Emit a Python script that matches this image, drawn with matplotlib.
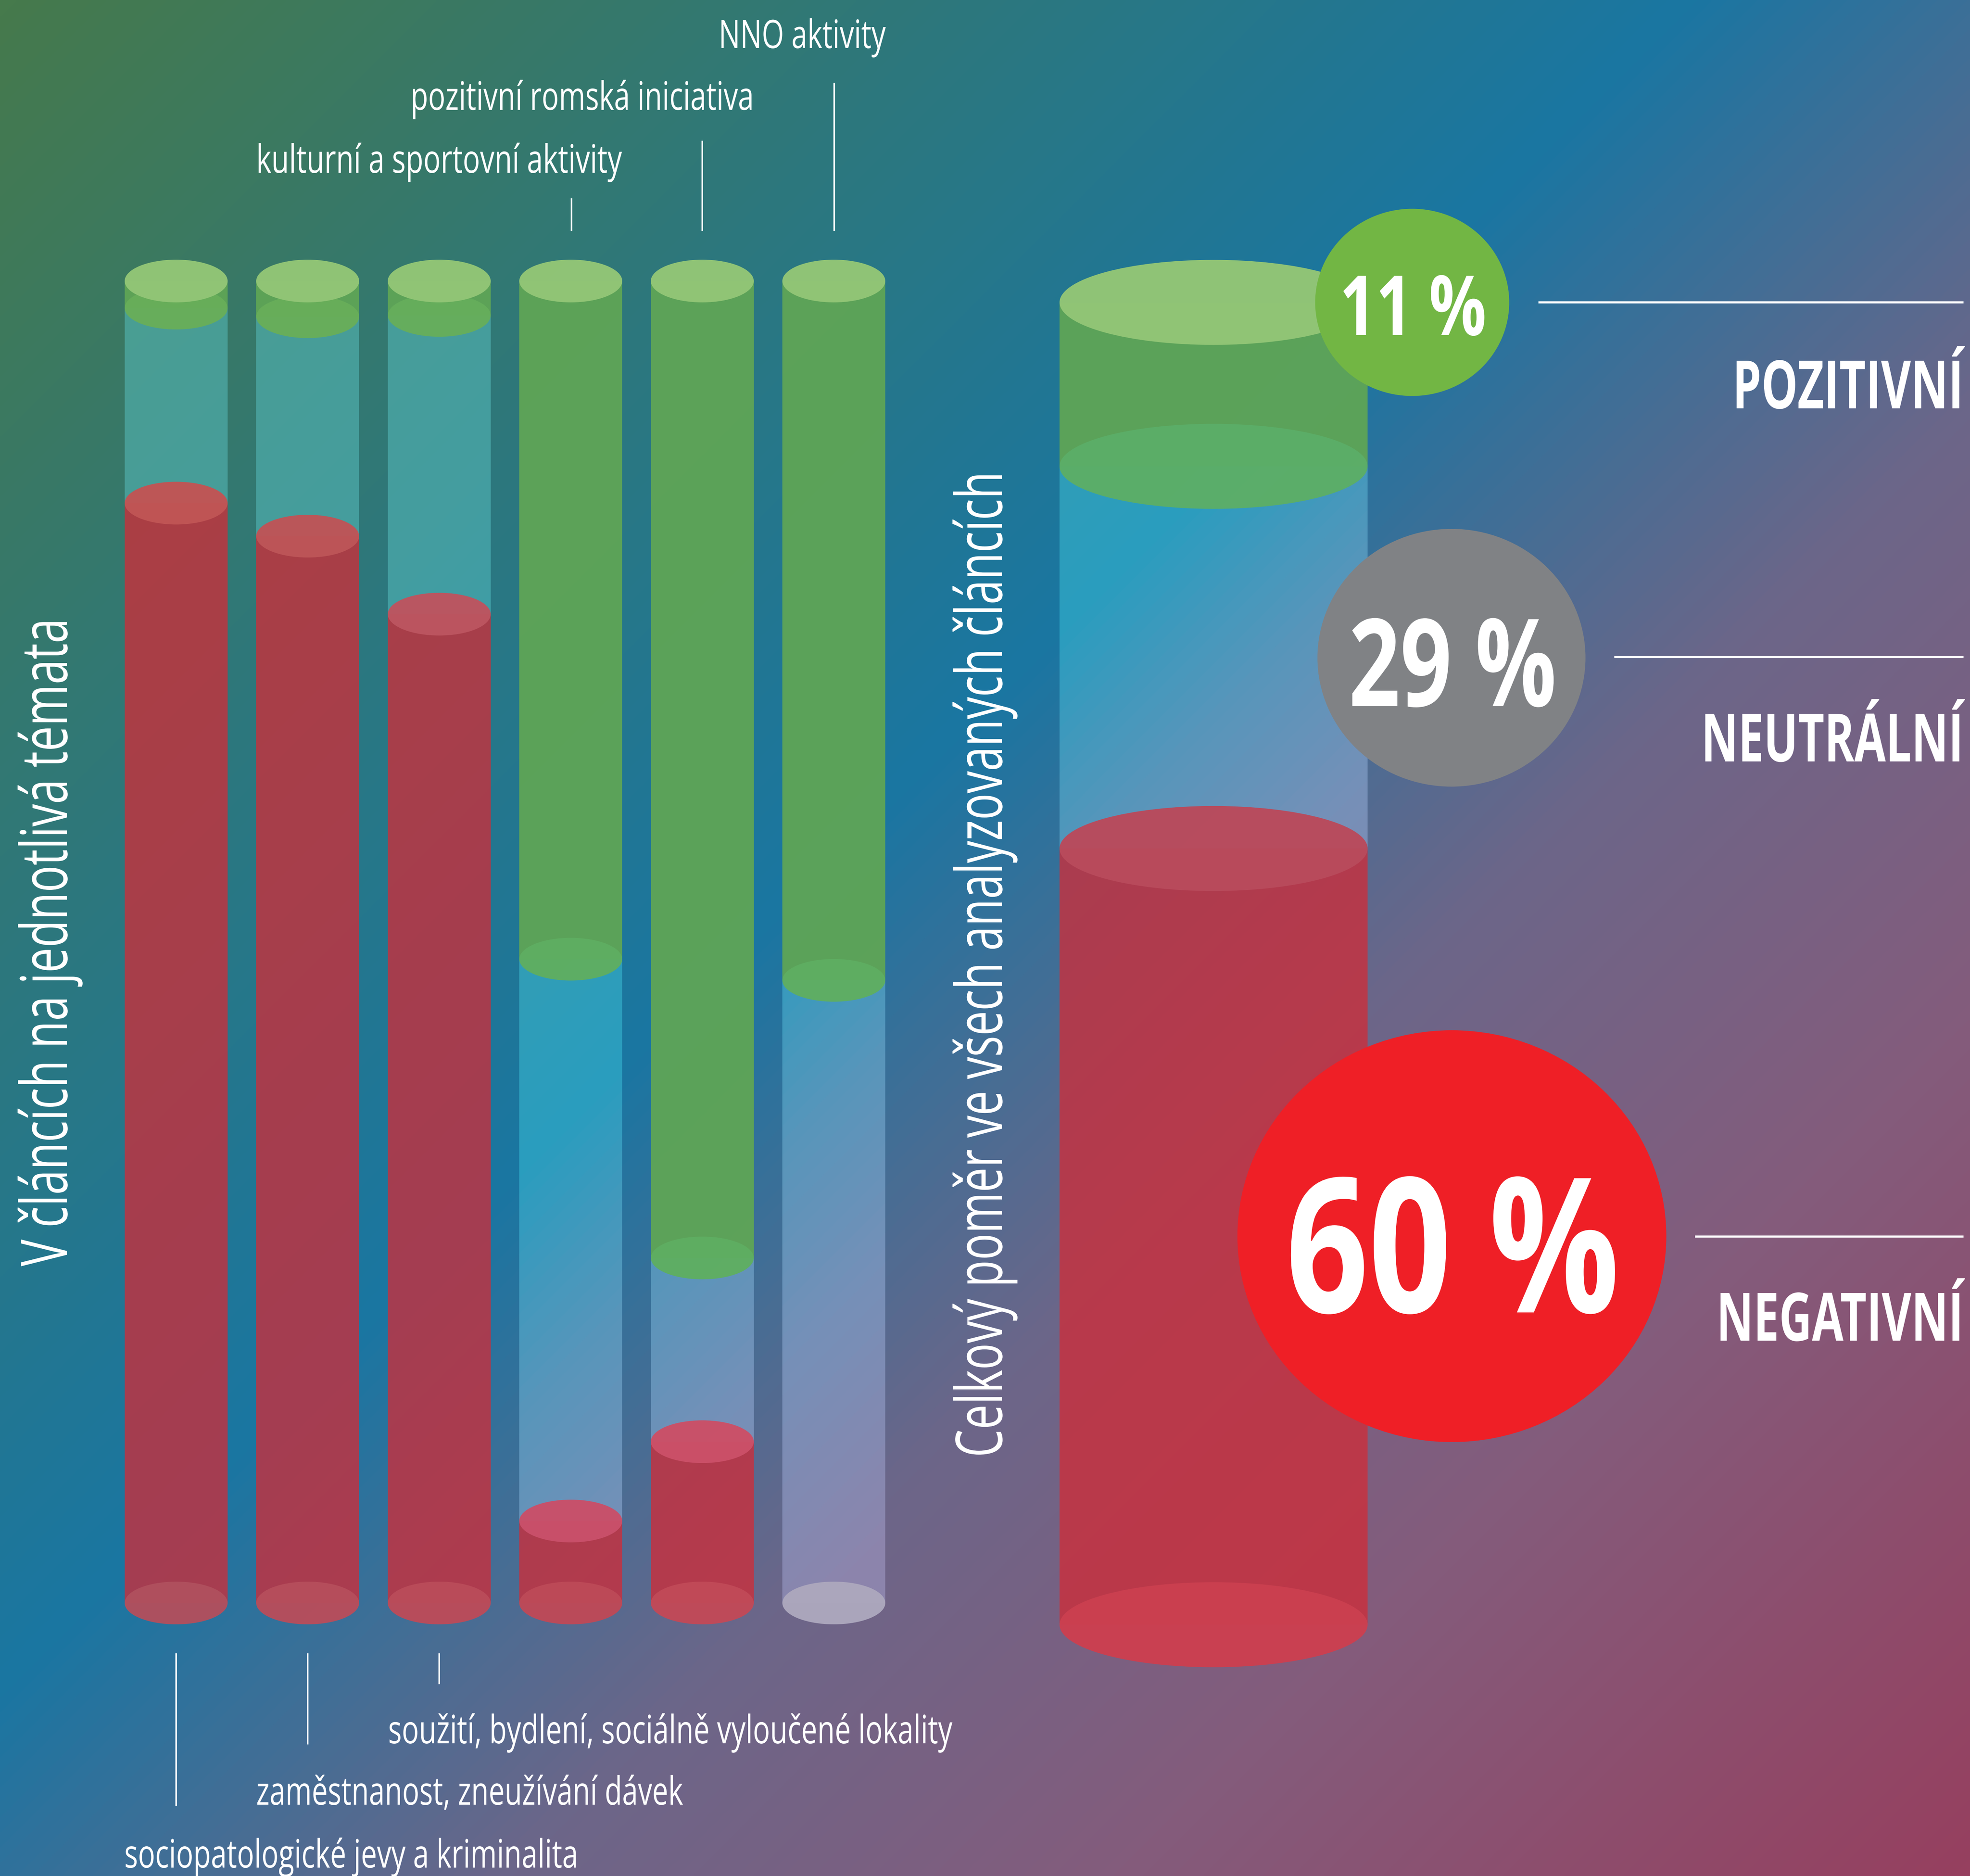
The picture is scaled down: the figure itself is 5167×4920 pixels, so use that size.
import numpy as np
import matplotlib
matplotlib.use("Agg")
import matplotlib.pyplot as plt
from matplotlib.colors import LinearSegmentedColormap
from matplotlib.patches import Ellipse
from matplotlib.patheffects import AbstractPathEffect
from matplotlib.text import Text
from matplotlib.transforms import Affine2D, Bbox

W, H = 5167, 4920

topics = ["sociopatologické jevy a kriminalita", "zaměstnanost, zneužívání dávek",
          "soužití, bydlení, sociálně vyloučené lokality", "kulturní a sportovní aktivity",
          "pozitivní romská iniciativa", "NNO aktivity"]
negative = [83.2, 80.7, 74.8, 6.2, 12.2, 0.0]
neutral = [14.75, 16.6, 22.6, 42.5, 13.9, 47.1]
positive = [2.05, 2.7, 2.6, 51.3, 73.9, 52.9]

total_negative = 58.7
total_neutral = 28.9
total_positive = 12.4
total_labels = ["11 %", "29 %", "60 %"]
total_names = ["POZITIVNÍ", "NEUTRÁLNÍ", "NEGATIVNÍ"]

bg_stops = [0.0, 0.44, 0.62, 0.78, 1.0]
bg_colors = ["#467a4c", "#1a76a2", "#6c6689", "#845c7c", "#96405f"]
neutral_stops = [0.0, 0.25, 0.44, 0.50, 0.56, 0.63, 1.0]
neutral_colors = ["#4f9f88", "#449da0", "#2a9dbf", "#5696bb", "#7690b8", "#8c85ad", "#a07a9f"]

base_caps = ["#b0505e", "#b64e5c", "#ba4c5a", "#bd4a58", "#c14a58", "#aca7bd"]
red_caps = ["#c05555", "#bd5558", "#bc5560", "#c9506a", "#cb5068", "#c9506a"]
green_caps = ["#68ae5a", "#68ae5a", "#66ae5c", "#5fae62", "#5fae62", "#5fae62"]

FONT = "Open Sans"

fig = plt.figure(figsize=(W / 100, H / 100), dpi=100)


class Squeeze(AbstractPathEffect):
    # the source font is condensed, none installed is: narrow the glyphs when drawn
    def __init__(self, owner):
        super().__init__()
        self.owner = owner

    def draw_path(self, renderer, gc, tpath, affine, rgbFace=None):
        renderer.draw_path(gc, tpath, affine + self.owner.squeeze_tf(), rgbFace)


class NarrowText(Text):
    def __init__(self, x, y, s, length, **kw):
        super().__init__(x, y, s, **kw)
        self.length = length
        self.factor = 1.0
        self.set_path_effects([Squeeze(self)])

    def squeeze_tf(self):
        ax0, ay0 = self.get_transform().transform(self.get_position())
        if self.get_rotation() == 90:
            sx, sy = 1.0, self.factor
        else:
            sx, sy = self.factor, 1.0
        return Affine2D().translate(-ax0, -ay0).scale(sx, sy).translate(ax0, ay0)

    def fit(self, renderer):
        bb = Text.get_window_extent(self, renderer)
        natural = bb.height if self.get_rotation() == 90 else bb.width
        self.factor = self.length / natural

    def get_window_extent(self, renderer=None, dpi=None):
        bb = Text.get_window_extent(self, renderer, dpi)
        return Bbox(self.squeeze_tf().transform(bb.get_points()))


def px_axes(left, right, top, bottom, zorder):
    a = fig.add_axes([left / W, 1 - bottom / H, (right - left) / W, (bottom - top) / H], zorder=zorder)
    a.axis("off")
    a.patch.set_alpha(0)
    return a


# background
ax_bg = px_axes(0, W, 0, H, 0)
xx, yy = np.meshgrid(np.linspace(0, 1, 800), np.linspace(0, 1, 800))
grad = (xx * W + yy * H) / (W + H)
bg_cmap = LinearSegmentedColormap.from_list("bg", list(zip(bg_stops, bg_colors)))
neutral_cmap = LinearSegmentedColormap.from_list("neu", list(zip(neutral_stops, neutral_colors)))
ax_bg.imshow(grad, cmap=bg_cmap, vmin=0, vmax=1, extent=[0, W, H, 0], aspect="auto", interpolation="bilinear")


def cylinder(ax, x, neg, neu, pos, width, cap_h, base_cap, red_cap, green_cap):
    ax.bar(x, neg, width, color="#d02c38", alpha=0.76, lw=0, zorder=2)
    # neutral part takes its colour from a lighter copy of the background
    rect = ax.bar(x, neu, width, bottom=neg, color="none", lw=0, zorder=2)[0]
    im = ax_bg.imshow(grad, cmap=neutral_cmap, vmin=0, vmax=1, extent=[0, W, H, 0], aspect="auto",
                      interpolation="bilinear", zorder=2)
    im.set_clip_path(rect)
    ax.bar(x, pos, width, bottom=neg + neu, color="#5fa556", alpha=0.95, lw=0, zorder=2)
    ax.add_patch(Ellipse((x, 0), width, cap_h, color=base_cap, alpha=0.98, lw=0, zorder=3, clip_on=False))
    if neg > 0:
        ax.add_patch(Ellipse((x, neg), width, cap_h, color=red_cap, alpha=0.98, lw=0, zorder=3, clip_on=False))
    ax.add_patch(Ellipse((x, 100 - pos), width, cap_h, color=green_cap, alpha=0.98, lw=0, zorder=3, clip_on=False))
    ax.add_patch(Ellipse((x, 100), width, cap_h, color="#92c576", alpha=0.98, lw=0, zorder=4, clip_on=False))


# six topic bars, 345 px apart
ax_topics = px_axes(289.5, 2359.5, 737, 4204, 1)
ax_topics.set_xlim(-0.5, 5.5)
ax_topics.set_ylim(0, 100)
for i in range(len(topics)):
    cylinder(ax_topics, i, negative[i], neutral[i], positive[i], 270 / 345, 112 / 3467 * 100,
             base_caps[i], red_caps[i], green_caps[i])

# overall bar
ax_total = px_axes(2779, 3587, 793, 4261, 1)
ax_total.set_xlim(-0.5, 0.5)
ax_total.set_ylim(0, 100)
cylinder(ax_total, 0, total_negative, total_neutral, total_positive, 1.0, 223 / 3468 * 100,
         "#cb4050", "#b94b5c", "#5cae68")
ax_bg.set_xlim(0, W)
ax_bg.set_ylim(H, 0)

# overlay in pixels: circles, leader lines, texts
ax = px_axes(0, W, 0, H, 2)
ax.set_xlim(0, W)
ax.set_ylim(H, 0)

circles = [((3704, 793), 509, 491, "#72b644"), ((3807, 1725), 703, 676, "#808285"), ((3808, 3242), 1125, 1080, "#ef1f26")]
for (c, w, h, col) in circles:
    ax.add_patch(Ellipse(c, w, h, color=col, lw=0))

line_w = 3.0
for x, y0 in zip([1499, 1842, 2188], [520, 369, 217]):
    ax.plot([x, x], [y0, 606], color="white", lw=line_w, solid_capstyle="butt")
for x, y1 in zip([462, 807, 1152], [4737, 4575, 4417]):
    ax.plot([x, x], [4336, y1], color="white", lw=line_w, solid_capstyle="butt")
for x0, y in zip([4035, 4234, 4446], [793, 1723, 3243]):
    ax.plot([x0, 5150], [y, y], color="white", lw=line_w + 1, solid_capstyle="butt")

texts = []


def put(x, y, s, length, size, **kw):
    t = NarrowText(x, y, s, length, color="white", fontsize=size, family=FONT, va="baseline", **kw)
    ax.add_artist(t)
    texts.append(t)


label_pos = [(326, 4898), (672, 4733), (1018, 4572), (672, 453), (1077, 288), (1885, 126)]
label_len = [1190, 1120, 1480, 959, 900, 438]
for name, (x, y), n in zip(topics, label_pos, label_len):
    put(x, y, name, n, 74, ha="left")

put(176, 3321, "V článcích na jednotlivá témata", 1700, 122, rotation=90, rotation_mode="anchor", ha="left")
put(2628, 3822, "Celkový poměr ve všech analyzovaných článcích", 2586, 122, rotation=90,
    rotation_mode="anchor", ha="left")

pct_pos = [(3706, 879), (3810, 1852), (3810, 3442)]
pct_size = [157, 230, 355]
pct_len = [385, 545, 875]
for lab, (x, y), s, n in zip(total_labels, pct_pos, pct_size, pct_len):
    put(x, y, lab, n, s, weight="bold", ha="center")

for lab, y, n in zip(total_names, [1071, 1997, 3516], [606, 688, 648]):
    put(5150, y, lab, n, 126, weight="bold", ha="right")

r = fig.canvas.get_renderer()
for t in texts:
    t.fit(r)

fig.savefig("out.png", dpi=100)
